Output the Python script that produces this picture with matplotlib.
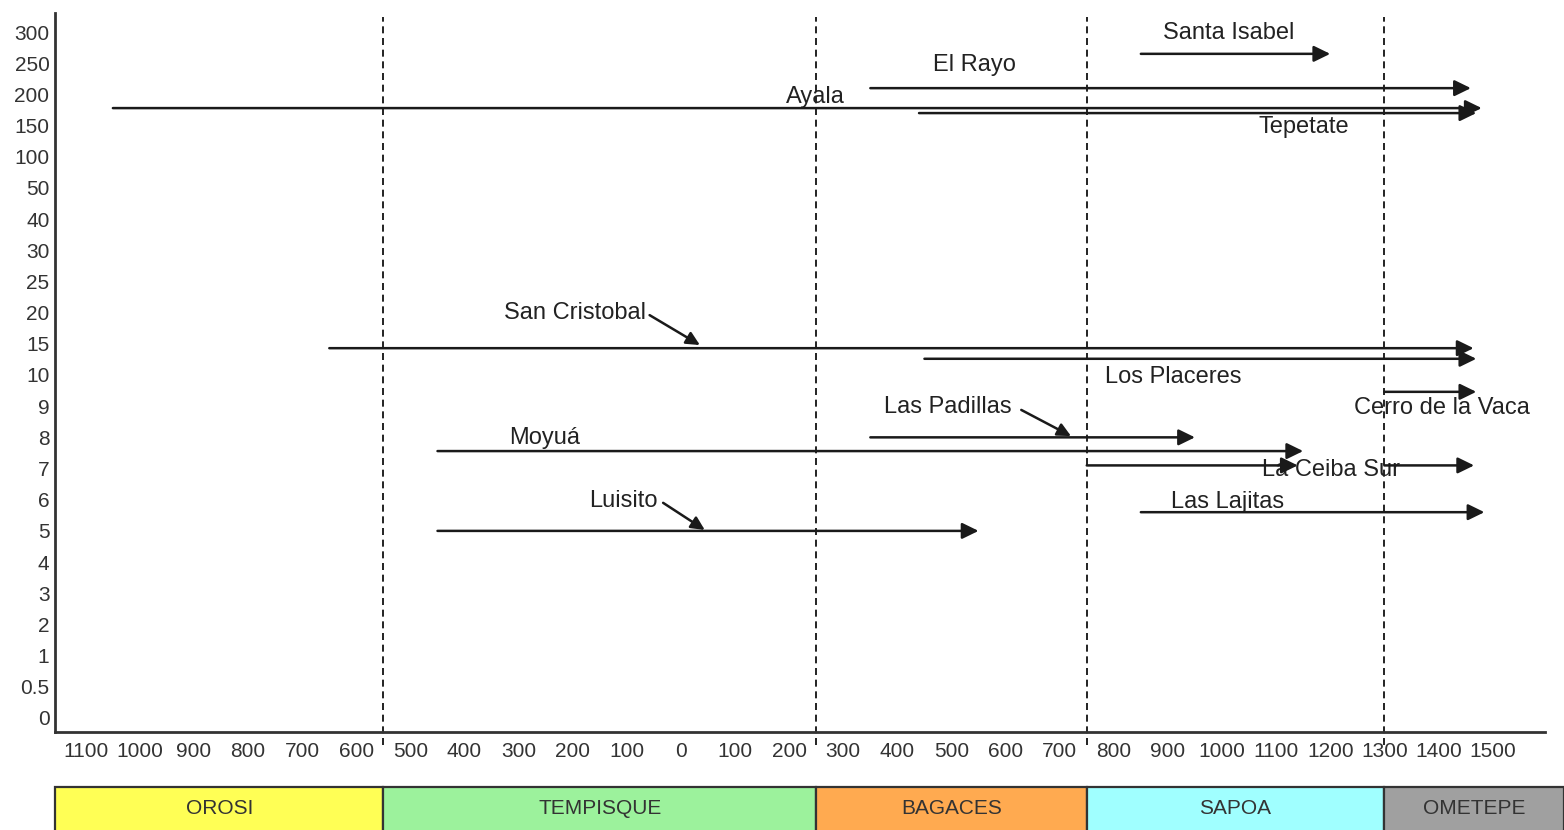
import numpy as np
import matplotlib
matplotlib.use("Agg")
import matplotlib.pyplot as plt
from matplotlib.patches import Rectangle

plt.rcParams['font.family'] = ['Liberation Sans', 'DejaVu Sans']

# ---------------- data ----------------
# ordinal y axis values (equally spaced on the chart)
y_ticks = [0, 0.5, 1, 2, 3, 4, 5, 6, 7, 8, 9, 10, 15, 20, 25, 30, 40, 50,
           100, 150, 200, 250, 300]
y_tick_labels = ['0', '0.5', '1', '2', '3', '4', '5', '6', '7', '8', '9', '10',
                 '15', '20', '25', '30', '40', '50', '100', '150', '200', '250', '300']

# x axis: years (negative = BC)
x_tick_years = list(range(-1100, 1501, 100))
x_tick_labels = [str(abs(y)) for y in x_tick_years]

# occupation arrows: site, start year, end year, y value
arrow_site = ['Santa Isabel', 'El Rayo', 'Ayala', 'Tepetate', 'San Cristobal',
              'Los Placeres', 'Cerro de la Vaca', 'Las Padillas', 'Moyuá',
              'La Ceiba Sur', 'La Ceiba Sur', 'Las Lajitas', 'Luisito']
arrow_start = [850, 350, -1050, 440, -650, 450, 1300, 350, -450, 750, 1300, 850, -450]
arrow_end = [1200, 1460, 1480, 1470, 1465, 1470, 1470, 950, 1150, 1140, 1466, 1485, 550]
arrow_value = [265, 210, 178, 170, 14.3, 12.6, 9.46, 8.0, 7.56, 7.1, 7.1, 5.6, 5.0]

# site labels
label_text = ['Santa Isabel', 'El Rayo', 'Ayala', 'Tepetate', 'San Cristobal',
              'Los Placeres', 'Cerro de la Vaca', 'Las Padillas', 'Moyuá',
              'La Ceiba Sur', 'Las Lajitas', 'Luisito']
label_year = [1012, 543, 248, 1152, -195, 910, 1406, 494, -252, 1202, 1011, -107]
label_value = [298, 247, 196, 147, 20, 9.94, 8.94, 8.97, 7.98, 6.95, 5.93, 5.96]

# pointer arrows from labels to lines
pointer_from_year = [-58, 629, -33]
pointer_from_value = [19.6, 8.88, 5.90]
pointer_to_year = [35, 721, 44]
pointer_to_value = [14.8, 8.04, 5.03]

# cultural periods
period_name = ['OROSI', 'TEMPISQUE', 'BAGACES', 'SAPOA', 'OMETEPE']
period_start = [-2000, -550, 250, 750, 1300]
period_end = [-550, 250, 750, 1300, 1550]
period_color = ['#FFFF55', '#9CF29C', '#FFAA50', '#A0FFFF', '#A0A0A0']
divider_years = [-550, 250, 750, 1300]

# ---------------- figure ----------------
W, H = 1564, 830
fig = plt.figure(figsize=(W / 100, H / 100), dpi=100)
ax_left, ax_right, ax_top, ax_bottom = 55, 1545, 13, 732
ax = fig.add_axes([ax_left / W, 1 - ax_bottom / H, (ax_right - ax_left) / W,
                   (ax_bottom - ax_top) / H])

yv = np.array(y_ticks, dtype=float)
yi = np.arange(len(yv), dtype=float)


def fwd(v):
    v = np.asarray(v, dtype=float)
    out = np.interp(v, yv, yi)
    out = np.where(v < yv[0], (v - yv[0]) / (yv[1] - yv[0]), out)
    out = np.where(v > yv[-1], yi[-1] + (v - yv[-1]) / (yv[-1] - yv[-2]), out)
    return out


def inv(i):
    i = np.asarray(i, dtype=float)
    out = np.interp(i, yi, yv)
    out = np.where(i < 0, yv[0] + i * (yv[1] - yv[0]), out)
    out = np.where(i > yi[-1], yv[-1] + (i - yi[-1]) * (yv[-1] - yv[-2]), out)
    return out


ax.set_yscale('function', functions=(fwd, inv))
x_lo, x_hi = -1157, 1597
ax.set_xlim(x_lo, x_hi)
ax.set_ylim(float(inv(-0.45)), float(inv(22.61)))

ax.set_yticks(y_ticks)
ax.set_yticklabels(y_tick_labels)
ax.yaxis.set_minor_locator(matplotlib.ticker.NullLocator())
ax.set_xticks(x_tick_years)
ax.set_xticklabels(x_tick_labels)
ax.tick_params(axis='both', length=0, labelsize=15, labelcolor='#333333')
ax.tick_params(axis='y', pad=4)
ax.tick_params(axis='x', pad=7)

for s in ['top', 'right']:
    ax.spines[s].set_visible(False)
for s in ['left', 'bottom']:
    ax.spines[s].set_color('#333333')
    ax.spines[s].set_linewidth(2)

# period dividers
for d in divider_years:
    ax.axvline(d, ymin=-0.018, ymax=0.995, color='#222222', lw=1.4,
               linestyle=(0, (3.6, 2.4)), clip_on=False, zorder=1)

# occupation arrows
for s, x0, x1, v in zip(arrow_site, arrow_start, arrow_end, arrow_value):
    ax.annotate('', xy=(x1, v), xytext=(x0, v),
                arrowprops=dict(arrowstyle='-|>,head_length=0.45,head_width=0.22',
                                mutation_scale=22, lw=1.8, color='#1a1a1a',
                                shrinkA=0, shrinkB=0),
                annotation_clip=False, zorder=3)

# labels
for t, x, v in zip(label_text, label_year, label_value):
    ax.text(x, v, t, ha='center', va='center', fontsize=17, color='#222222',
            zorder=2)

# pointer arrows
for x0, v0, x1, v1 in zip(pointer_from_year, pointer_from_value,
                          pointer_to_year, pointer_to_value):
    ax.annotate('', xy=(x1, v1), xytext=(x0, v0),
                arrowprops=dict(arrowstyle='-|>,head_length=0.45,head_width=0.22',
                                mutation_scale=18, lw=1.8, color='#1a1a1a',
                                shrinkA=0, shrinkB=0),
                annotation_clip=False, zorder=3)

# period band
band_top = 787
bax = fig.add_axes([ax_left / W, 0, (W - ax_left) / W, (H - band_top) / H])
b_lo = x_lo
b_hi = x_lo + (x_hi - x_lo) * (W - ax_left) / (ax_right - ax_left)
bax.set_xlim(b_lo, b_hi)
bax.set_ylim(0, 1)
bax.axis('off')
for n, s, e, c in zip(period_name, period_start, period_end, period_color):
    vs = max(s, b_lo)
    ve = b_hi if n == period_name[-1] else min(e, b_hi)
    bax.add_patch(Rectangle((vs, -0.5), ve - vs, 1.5, facecolor=c,
                            edgecolor='#333333', lw=1.6, clip_on=False))
    bax.text((vs + ve) / 2, 0.5, n, ha='center', va='center', fontsize=15,
             color='#333333')

fig.savefig('out.png', dpi=100)
